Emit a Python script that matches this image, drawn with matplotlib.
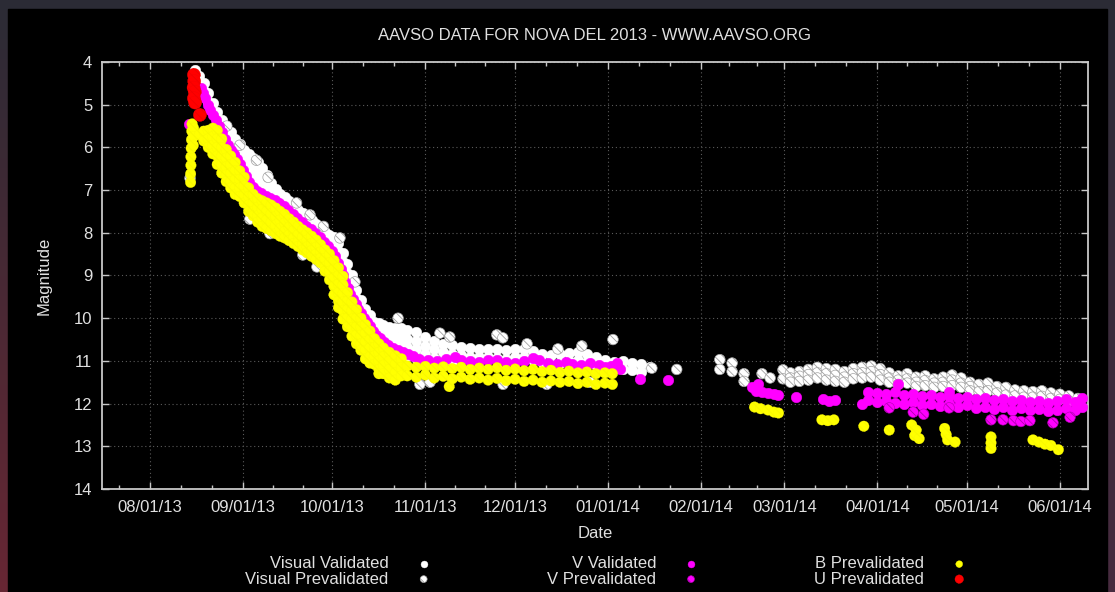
import datetime as dt
import numpy as np
import matplotlib
matplotlib.use('Agg')
import matplotlib.pyplot as plt
import matplotlib.dates as mdates
from matplotlib.ticker import FixedLocator
from matplotlib.patches import Rectangle

plt.rcParams['font.family'] = ['Liberation Sans', 'DejaVu Sans']
plt.rcParams['hatch.linewidth'] = 0.6

# days are counted from 2013-08-01 (UT)
t0 = mdates.date2num(dt.datetime(2013, 8, 1))

# ---- Visual, validated: (day, [magnitudes]) ----
vis_val_cols = [
    (15.0, [4.18, 4.38]), (16.5, [4.33, 4.5]), (18.0, [4.5, 4.68]),
    (19.5, [4.73, 4.93]), (21.0, [4.96, 5.16]), (22.5, [5.17, 5.35]),
    (24.0, [5.36, 5.56]), (25.5, [5.51, 5.71, 5.83]), (27.0, [5.65, 5.85, 6.02]),
    (28.5, [5.8, 6.0, 6.18]), (30.0, [5.93, 6.13, 6.33]), (31.5, [6.05, 6.25, 6.45]),
    (33.0, [6.16, 6.36, 6.56, 6.76]), (34.5, [6.25, 6.45, 6.65, 6.85]),
    (36.0, [6.35, 6.55, 6.75, 6.95]), (37.5, [6.48, 6.68, 6.88, 7.03]),
    (39.0, [6.65, 6.85, 7.05]), (40.5, [6.83, 7.03, 7.15]), (42.0, [6.98, 7.18]),
    (43.5, [7.08, 7.26]), (45.0, [7.16, 7.34]), (46.5, [7.25, 7.45]),
    (48.0, [7.34, 7.54]), (49.5, [7.46, 7.63]), (51.0, [7.53, 7.72]),
    (52.5, [7.6, 7.8]), (54.0, [7.7, 7.88]), (55.5, [7.8, 7.97]),
    (57.0, [7.89, 8.08]), (58.5, [7.98, 8.18]), (60.0, [8.05, 8.25]),
    (61.5, [8.11, 8.31, 8.47]), (63.0, [8.23, 8.43, 8.63]), (64.5, [8.48, 8.68, 8.85]),
    (66.0, [8.73, 8.93, 9.13]), (67.5, [8.98, 9.18, 9.38]), (69.0, [9.33, 9.53]),
    (70.5, [9.58, 9.78]), (72.0, [9.78, 9.96]), (73.5, [9.93, 10.12]),
    (75.0, [10.08, 10.28]), (76.5, [10.12, 10.32]), (78.0, [10.17, 10.37]),
    (80.0, [10.2, 10.4, 10.55]), (82.0, [10.22, 10.42, 10.6]), (84.0, [10.24, 10.44, 10.64]),
    (86.0, [10.28, 10.48, 10.68, 10.88]), (89.0, [10.33, 10.53, 10.73, 10.93]),
    (92.0, [10.45, 10.65, 10.85, 11.05]), (95.0, [10.53, 10.73, 10.93]),
    (98.0, [10.6, 10.8, 11.0]), (101.0, [10.63, 10.83, 11.03]), (104.0, [10.67, 10.87]),
    (107.0, [10.7, 10.9]), (110.0, [10.72, 10.92]), (113.0, [10.72, 10.92]),
    (116.0, [10.73, 10.93]), (119.0, [10.75, 10.95]), (122.0, [10.72, 10.92]),
    (125.0, [10.72, 10.92]), (128.0, [10.77, 10.97]), (131.0, [10.83, 11.03]),
    (134.0, [10.86, 11.06]), (137.0, [10.85, 11.05]), (140.0, [10.81, 11.01]),
    (143.0, [10.79, 10.99]), (146.0, [10.83, 11.03]), (149.0, [10.9, 11.1]),
    (152.0, [10.97, 11.17]), (155.0, [11.02, 11.2]), (158.0, [11.0, 11.2]),
    (161.0, [11.05, 11.22]), (164.0, [11.08, 11.25]), (167.0, [11.15]),
]

# ---- Visual, prevalidated ----
vis_pre_cols = [
    (13.4, [6.72]), (25.7, [5.5]), (30.0, [5.95]), (35.6, [6.3]), (39.5, [6.7]),
    (49.0, [7.3]), (53.5, [7.58]), (58.0, [7.85]), (63.5, [8.12]), (68.5, [9.15]),
    (82.9, [10.0]), (33.4, [7.68]), (40.1, [8.02]), (51.1, [8.52]), (55.8, [8.8]),
    (96.9, [10.35]), (100.2, [10.44]), (115.9, [10.39]), (117.9, [10.46]),
    (126.0, [10.6]), (136.3, [10.72]), (144.3, [10.65]), (154.7, [10.5]),
    (167.7, [11.17]), (176.0, [11.2]), (76.8, [11.25]), (90.2, [11.55]),
    (93.6, [11.5]), (118.0, [11.55]), (132.6, [11.55]), (147.0, [11.5]),
    (190.4, [10.97, 11.2]), (194.5, [11.05, 11.25]), (198.5, [11.3, 11.48]),
    (204.5, [11.3]), (207.2, [11.4]), (211.5, [11.21, 11.42]),
    (214, [11.28, 11.4, 11.5]), (217, [11.25, 11.36, 11.48]), (220, [11.2, 11.32, 11.45]),
    (223, [11.15, 11.28, 11.4]), (226, [11.18, 11.3, 11.45]), (229, [11.2, 11.34, 11.48]),
    (232, [11.25, 11.38, 11.5]), (235, [11.18, 11.3, 11.42]), (238, [11.15, 11.28, 11.4]),
    (241, [11.12, 11.25, 11.38]), (244, [11.18, 11.32, 11.45]), (247, [11.28, 11.4, 11.5]),
    (250, [11.35, 11.45, 11.55]), (253, [11.3, 11.42, 11.52]), (256, [11.38, 11.5, 11.6]),
    (259, [11.35, 11.46, 11.58]), (262, [11.42, 11.52, 11.62]), (265, [11.38, 11.5, 11.6]),
    (268, [11.33, 11.45, 11.58]), (271, [11.4, 11.52, 11.62]), (274, [11.5, 11.6, 11.7]),
    (277, [11.55, 11.72]), (280, [11.52, 11.7]), (283, [11.6, 11.75]),
    (286, [11.62, 11.8]), (289, [11.68, 11.82]), (292, [11.7, 11.85]),
    (295, [11.72, 11.85]), (298, [11.7, 11.83]), (301, [11.75, 11.88]),
    (304, [11.78, 11.9]), (307, [11.82, 11.95]), (310, [11.88, 11.98]),
]

# ---- V band, validated ----
v_val_day = [
    13.1,
    17.0, 17.7, 18.5, 19.3, 20.2, 21.2, 22.2, 23.2, 24.2, 25.2, 26.2, 27.2, 28.2,
    29.2, 30.2, 31.2, 32.2, 33.2, 34.3, 35.7, 37.2, 38.7, 40.2, 41.7, 43.2, 44.7,
    46.2, 47.7, 49.2, 50.7, 52.2, 53.7, 55.2, 56.7, 58.2, 59.5, 60.7, 61.8, 62.8,
    63.7, 64.5, 65.3, 66.1, 66.9, 67.8, 68.7, 69.6, 70.5, 71.5, 72.5, 73.5, 74.5,
    75.6, 76.8, 78.2, 79.7, 81.2, 82.8, 84.5, 86.2, 88.0,
    90, 93, 96, 99, 102, 104, 107, 110, 113, 116, 119, 122, 125, 128, 130, 133,
    136, 139, 141, 144, 147, 150, 152, 154, 156, 157, 163.7, 173,
    201, 202.5, 203, 204.5, 206.5, 208.5, 210, 216, 225, 227, 229, 238, 250, 267,
]
v_val_mag = [
    5.45,
    4.6, 4.72, 4.85, 5.0, 5.12, 5.25, 5.35, 5.5, 5.65, 5.8, 5.95, 6.05, 6.15,
    6.27, 6.4, 6.53, 6.67, 6.81, 6.93, 7.01, 7.07, 7.13, 7.19, 7.23, 7.3, 7.38,
    7.47, 7.57, 7.65, 7.75, 7.83, 7.91, 8.0, 8.1, 8.22, 8.32, 8.42, 8.55, 8.7,
    8.85, 9.0, 9.15, 9.3, 9.43, 9.55, 9.67, 9.78, 9.88, 9.99, 10.09, 10.19, 10.29,
    10.39, 10.47, 10.55, 10.62, 10.69, 10.75, 10.8, 10.85, 10.88,
    10.95, 10.97, 11.0, 10.95, 10.92, 10.98, 11.0, 11.03, 10.98, 10.97, 11.02, 11.05,
    11.0, 10.93, 10.97, 11.05, 11.08, 11.02, 11.08, 11.1, 11.05, 11.1, 11.15, 11.12,
    11.05, 11.18, 11.42, 11.45,
    11.62, 11.7, 11.55, 11.72, 11.75, 11.78, 11.8, 11.85, 11.9, 11.95, 11.92, 12.02,
    11.55, 11.73,
]
v_band_cols = [
    (240, [11.72, 11.92]), (243, [11.75, 11.96]), (246, [11.78, 11.94]),
    (249, [11.74, 11.98]), (252, [11.8, 12.0]), (255, [11.77, 11.97]),
    (258, [11.82, 12.03]), (261, [11.8, 12.0]), (264, [11.85, 12.05]),
    (267, [11.82, 12.02]), (270, [11.88, 12.08]), (273, [11.84, 12.04]),
    (276, [11.9, 12.1]), (279, [11.87, 12.07]), (282, [11.92, 12.12]),
    (285, [11.9, 12.08]), (288, [11.95, 12.14]), (291, [11.92, 12.1]),
    (294, [11.97, 12.16]), (297, [11.93, 12.12]), (300, [11.98, 12.18]),
    (303, [11.95, 12.15]), (306, [11.9, 12.1]), (309, [11.96, 12.14]),
    (311.5, [11.88, 12.08]),
]

# ---- V band, prevalidated ----
v_pre_day = [247, 255, 258.5, 267, 281, 285, 288.5, 291, 294, 301.7, 307.4]
v_pre_mag = [12.1, 12.2, 12.25, 12.1, 12.38, 12.38, 12.4, 12.42, 12.4, 12.45, 12.32]

# ---- B band, prevalidated ----
b_pre_cols = [
    (13.6, [6.82, 6.62]), (13.7, [6.42, 6.22]), (13.8, [6.02]), (13.9, [5.82]),
    (14.0, [5.62]), (14.1, [5.45]), (14.6, [5.55, 5.75]), (14.5, [5.95]),
    (16.6, [5.7]), (18.0, [5.62, 5.85]), (19.5, [5.6, 5.8, 6.0]),
    (21.0, [5.55, 5.75, 5.95, 6.15]), (22.5, [5.6, 5.8, 6.0, 6.2, 6.4]),
    (24.0, [5.8, 6.0, 6.2, 6.4, 6.6]), (25.5, [6.05, 6.25, 6.45, 6.65, 6.8]),
    (27.0, [6.2, 6.4, 6.6, 6.8, 6.95]), (28.5, [6.35, 6.55, 6.75, 6.95, 7.1]),
    (30.0, [6.55, 6.75, 6.95, 7.15]), (31.5, [6.7, 6.9, 7.1, 7.3]),
    (33.0, [6.95, 7.15, 7.35, 7.5]), (34.5, [7.1, 7.3, 7.5, 7.6]),
    (36.0, [7.2, 7.4, 7.6, 7.75]), (37.5, [7.25, 7.45, 7.65, 7.85]),
    (39.0, [7.3, 7.5, 7.7, 7.9]), (40.5, [7.35, 7.55, 7.75, 7.95]),
    (42.0, [7.42, 7.62, 7.82, 8.02]), (43.5, [7.5, 7.7, 7.9, 8.08]),
    (45.0, [7.57, 7.77, 7.97, 8.12]), (46.5, [7.67, 7.87, 8.05, 8.18]),
    (48.0, [7.75, 7.95, 8.12, 8.25]), (49.5, [7.85, 8.05, 8.22, 8.32]),
    (51.0, [7.93, 8.1, 8.27, 8.4]), (52.5, [8.0, 8.17, 8.33, 8.47]),
    (54.0, [8.08, 8.25, 8.42, 8.55]), (55.5, [8.17, 8.34, 8.5, 8.62]),
    (57.0, [8.28, 8.45, 8.6, 8.7]), (58.5, [8.4, 8.6, 8.8, 8.9]),
    (60.0, [8.5, 8.7, 8.9, 9.1]), (61.5, [8.65, 8.85, 9.05, 9.25, 9.45]),
    (63.0, [8.82, 9.0, 9.2, 9.4, 9.6, 9.75]), (64.5, [9.02, 9.22, 9.42, 9.62, 9.82, 10.02]),
    (66.0, [9.4, 9.6, 9.8, 10.0, 10.2]), (67.5, [9.62, 9.82, 10.02, 10.22, 10.42]),
    (69.0, [9.8, 10.0, 10.2, 10.4, 10.6]), (70.5, [10.0, 10.2, 10.4, 10.6, 10.75]),
    (72.0, [10.15, 10.35, 10.55, 10.75, 10.95]), (73.5, [10.3, 10.5, 10.7, 10.9, 11.05]),
    (75.0, [10.48, 10.68, 10.88, 11.08]), (76.5, [10.6, 10.8, 11.0, 11.2, 11.3]),
    (78.0, [10.7, 10.9, 11.1, 11.3]), (80.0, [10.8, 11.0, 11.2, 11.4]),
    (82.0, [10.88, 11.08, 11.28, 11.45]), (84.0, [10.95, 11.15, 11.35]),
    (86, [11.12, 11.35]), (89, [11.15, 11.38]), (92, [11.13, 11.33]),
    (95, [11.17, 11.4]), (98, [11.14, 11.36]), (100, [11.6]), (101, [11.18, 11.42]),
    (104, [11.15, 11.38]), (107, [11.2, 11.43]), (110, [11.17, 11.4]),
    (113, [11.2, 11.45]), (116, [11.16, 11.41]), (119, [11.22, 11.46]),
    (122, [11.19, 11.43]), (125, [11.23, 11.48]), (128, [11.2, 11.45]),
    (131, [11.25, 11.5]), (134, [11.22, 11.47]), (137, [11.27, 11.5]),
    (140, [11.24, 11.48]), (143, [11.28, 11.53]), (146, [11.26, 11.5]),
    (149, [11.3, 11.55]), (152, [11.28, 11.52]), (154.5, [11.3, 11.55]),
    (202, [12.08]), (204, [12.12]), (206.5, [12.15]), (208.5, [12.2]), (210, [12.22]),
    (224.5, [12.38]), (226.5, [12.4]), (228.5, [12.38]), (238.5, [12.53]),
    (247, [12.62]), (254.5, [12.5]), (256, [12.62]), (255.5, [12.75]), (257, [12.82]),
    (265.5, [12.58]), (266, [12.72]), (266.5, [12.85]), (269, [12.9]),
    (281, [12.78, 12.92, 13.05]), (295, [12.85]), (297, [12.9]), (299, [12.95]),
    (301, [12.98]), (303.5, [13.08]),
]

# ---- U band, prevalidated ----
u_pre_day = [14.7, 14.8, 14.6, 15.0, 14.7, 15.1, 16.7]
u_pre_mag = [4.3, 4.45, 4.6, 4.7, 4.85, 4.95, 5.24]

month_starts = [dt.datetime(2013, m, 1) for m in range(7, 13)] + \
               [dt.datetime(2014, m, 1) for m in range(1, 8)]


def flatten(cols):
    days = [d for d, mags in cols for _ in mags]
    mags = [m for _, ms in cols for m in ms]
    return t0 + np.array(days), np.array(mags)


fig = plt.figure(figsize=(11.15, 5.92), dpi=100)

# backdrop: dim nebula tint with a black panel on top
bg = fig.add_axes([0, 0, 1, 1], zorder=-10)
yy = np.linspace(0, 1, 60)[:, None, None]
xx = np.linspace(0, 1, 112)[None, :, None]
top = np.array([0.17, 0.17, 0.21])
red = np.array([0.40, 0.15, 0.20])
purple = np.array([0.28, 0.17, 0.25])
left = top * (1 - yy) + red * yy
right = top * (1 - yy) + purple * yy
bg.imshow(left * (1 - xx) + right * xx, extent=[0, 1, 0, 1], aspect='auto', origin='upper')
bg.add_patch(Rectangle((8 / 1115, 0), 1099 / 1115, 1 - 9 / 592, color='black',
                       transform=bg.transAxes))
bg.set_xlim(0, 1)
bg.set_ylim(0, 1)
bg.axis('off')

ax = fig.add_axes([102 / 1115, 1 - 489 / 592, 986 / 1115, 427 / 592])
ax.set_facecolor('black')

S = 58
hatch = '\\\\\\\\'
vx, vm = flatten(vis_val_cols)
ax.scatter(vx, vm, s=S, facecolors='white', edgecolors='white', linewidths=0.3,
           label='Visual Validated', zorder=2)
px, pm = flatten(vis_pre_cols)
ax.scatter(px, pm, s=S, facecolors='white', edgecolors='#a0a0a0', hatch=hatch,
           linewidths=0.5, label='Visual Prevalidated', zorder=2.5)
bx, bm = flatten(v_band_cols)
ax.scatter(np.concatenate([t0 + np.array(v_val_day), bx]), np.concatenate([v_val_mag, bm]),
           s=S, facecolors='#ff00ff', edgecolors='#ff00ff', linewidths=0.3,
           label='V Validated', zorder=3)
ax.scatter(t0 + np.array(v_pre_day), v_pre_mag, s=S, facecolors='#ff00ff',
           edgecolors='#b000b0', hatch=hatch, linewidths=0.4,
           label='V Prevalidated', zorder=3.5)
yx, ym = flatten(b_pre_cols)
ax.scatter(yx, ym, s=S, facecolors='#ffff00', edgecolors='#f8f800', hatch=hatch,
           linewidths=0.2, label='B Prevalidated', zorder=4)
ax.scatter(t0 + np.array(u_pre_day), u_pre_mag, s=90, facecolors='#ff0000',
           edgecolors='#f00000', hatch=hatch, linewidths=0.2,
           label='U Prevalidated', zorder=5)

ax.set_xlim(t0 - 16, t0 + 313.4)
ax.set_ylim(14, 4)
ax.set_yticks(range(4, 15))
ax.xaxis.set_major_locator(mdates.MonthLocator())
ax.xaxis.set_major_formatter(mdates.DateFormatter('%m/%d/%y'))
nums = mdates.date2num(month_starts)
minors = []
for a, b in zip(nums[:-1], nums[1:]):
    minors += [a + (b - a) / 3, a + 2 * (b - a) / 3]
ax.xaxis.set_minor_locator(FixedLocator(minors))

fg = '#e0e0e0'
ax.tick_params(which='both', direction='in', top=True, right=True,
               color='#c8c8c8', labelcolor=fg, labelsize=12, width=1.0)
ax.tick_params(which='major', length=5, pad=7)
ax.tick_params(axis='x', which='major', pad=8)
ax.tick_params(which='minor', length=3)
ax.grid(which='major', color='#5a5a5a', linestyle=(0, (1, 2.5)), linewidth=0.8)
for sp in ax.spines.values():
    sp.set_color('#c8c8c8')
    sp.set_linewidth(1.3)

ax.set_xlabel('Date', color=fg, fontsize=12)
ax.xaxis.set_label_coords(0.5, -0.087)
ax.set_ylabel('Magnitude', color=fg, fontsize=12)
ax.yaxis.set_label_coords(-0.051, 0.5)

fig.text(594.5 / 1115, 1 - 36 / 592, 'AAVSO DATA FOR NOVA DEL 2013 - WWW.AAVSO.ORG',
         ha='center', va='center', fontsize=12, color=fg)

fig.legend(loc='center', bbox_to_anchor=(606.5 / 1115, 1 - 571.5 / 592), ncol=3,
           markerfirst=False, frameon=False, fontsize=12, labelcolor=fg,
           columnspacing=6.9, handletextpad=1.6, handlelength=1.0,
           labelspacing=0.0, markerscale=0.65, borderpad=0)

fig.savefig('out.png', dpi=100, facecolor=fig.get_facecolor())
